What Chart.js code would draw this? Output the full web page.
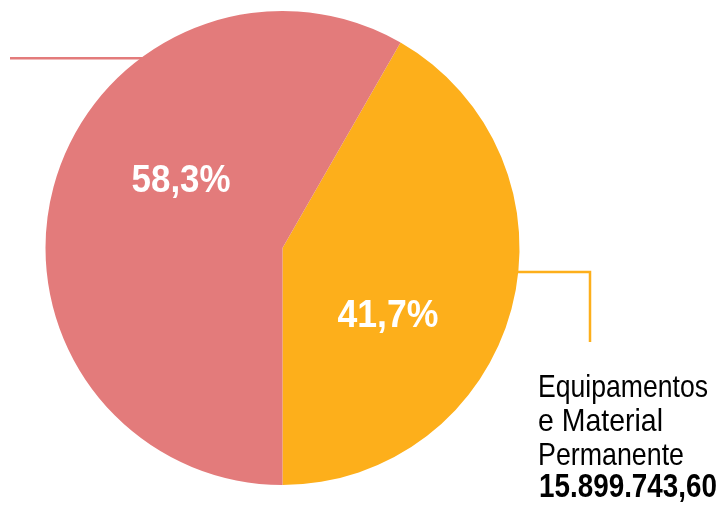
<!DOCTYPE html>
<html>
<head>
<meta charset="utf-8">
<script src="https://cdn.jsdelivr.net/npm/chart.js@4.4.1/dist/chart.umd.min.js"></script>
<style>
  html, body { margin: 0; padding: 0; background: #fff; }
  #caja { width: 721px; height: 505px; position: relative; }
</style>
</head>
<body>
<div id="caja"><canvas id="graficaPizza"></canvas></div>
<script>
const categorias = ['Equipamentos e Material Permanente', ''];
const porcentagens = [41.7, 58.3];
const valores = ['15.899.743,60', ''];
const rotulos = ['41,7%', '58,3%'];
const cores = ['#FDAF1B', '#E37B7B'];

const fonte = '"Liberation Sans", Arial, sans-serif';

// start angle so the orange slice ends at the bottom
const inicio = 180 - porcentagens[0] / 100 * 360;

// condensed look: squeeze text horizontally to a given width
function textoEstreito(ctx, texto, x, y, largura, alinhar) {
  const w = ctx.measureText(texto).width;
  const k = largura / w;
  ctx.save();
  ctx.textAlign = 'left';
  let x0 = x;
  if (alinhar === 'center') x0 = x - largura / 2;
  ctx.translate(x0, y);
  ctx.scale(k, 1);
  ctx.fillText(texto, 0, 0);
  ctx.restore();
}

const rotulosPlugin = {
  id: 'rotulos',
  afterDatasetsDraw(chart) {
    const ctx = chart.ctx;
    const arcos = chart.getDatasetMeta(0).data;
    const a = arcos[0];
    const cx = a.x, cy = a.y, r = a.outerRadius;

    ctx.save();
    // leader lines
    ctx.lineWidth = 2.5;
    ctx.strokeStyle = cores[1];
    let y1 = cy - r * 0.801;
    let x1 = cx - Math.sqrt(r * r - (cy - y1) * (cy - y1));
    ctx.beginPath();
    ctx.moveTo(10, y1);
    ctx.lineTo(x1 + 4, y1);
    ctx.stroke();

    ctx.strokeStyle = cores[0];
    let y2 = cy + r * 0.101;
    let x2 = cx + Math.sqrt(r * r - (y2 - cy) * (y2 - cy));
    ctx.beginPath();
    ctx.moveTo(x2 - 4, y2);
    ctx.lineTo(590, y2);
    ctx.lineTo(590, 342);
    ctx.stroke();

    // percentages
    ctx.fillStyle = '#fff';
    ctx.font = 'bold 39px ' + fonte;
    ctx.textBaseline = 'middle';
    textoEstreito(ctx, rotulos[0], cx + r * 0.445, cy + r * 0.29, 101, 'center');
    textoEstreito(ctx, rotulos[1], cx - r * 0.428, cy - r * 0.282, 99, 'center');

    // legend text
    ctx.fillStyle = '#000';
    ctx.textBaseline = 'alphabetic';
    ctx.font = '32px ' + fonte;
    textoEstreito(ctx, 'Equipamentos', 538, 397, 170);
    textoEstreito(ctx, 'e Material', 538, 431, 125);
    textoEstreito(ctx, 'Permanente', 538, 465, 146);
    ctx.font = 'bold 34px ' + fonte;
    textoEstreito(ctx, valores[0], 539, 497, 178);
    ctx.restore();
  }
};

new Chart(document.getElementById('graficaPizza'), {
  type: 'pie',
  data: {
    labels: categorias,
    datasets: [{
      data: porcentagens,
      backgroundColor: cores,
      borderWidth: 0,
    }],
  },
  options: {
    responsive: true,
    maintainAspectRatio: false,
    animation: false,
    rotation: inicio,
    layout: { padding: { left: 45.5, right: 201.5, top: 11, bottom: 20 } },
    plugins: {
      legend: { display: false },
      tooltip: { enabled: false },
    },
  },
  plugins: [rotulosPlugin],
});
</script>
</body>
</html>
